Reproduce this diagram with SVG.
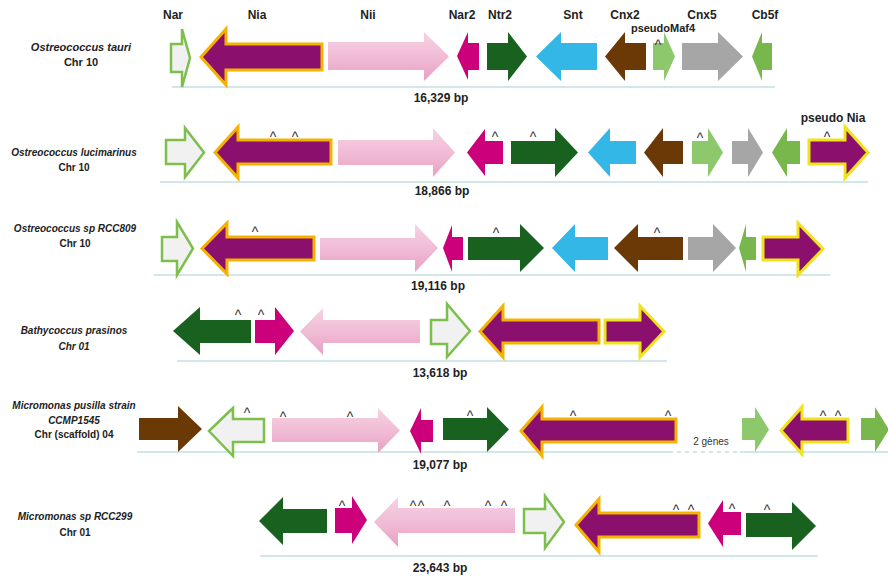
<svg xmlns="http://www.w3.org/2000/svg" width="888" height="577" viewBox="0 0 888 577">
<defs>
<linearGradient id="niiGrad" x1="0" y1="0" x2="0" y2="1">
<stop offset="0" stop-color="#f6d2e3"/>
<stop offset="0.55" stop-color="#f0bad4"/>
<stop offset="1" stop-color="#e7a0c3"/>
</linearGradient>
</defs>
<style>
text{font-family:"Liberation Sans",Arial,sans-serif;fill:#222}
.hdr{font-size:12px;font-weight:bold;text-anchor:middle}
.sp{font-size:10px;font-weight:bold;font-style:italic;text-anchor:middle}
.chr{font-size:10px;font-weight:bold;text-anchor:middle}
.bp{font-size:12px;font-weight:bold;text-anchor:middle}
.car{font-size:14px;text-anchor:middle;fill:#333}
.nar{fill:#f1f1f1;stroke:#7cbf4c;stroke-width:2.5}
.nia{fill:#8b0f6d;stroke:#f5b301;stroke-width:3}
.niay{fill:#8b0f6d;stroke:#f0e21c;stroke-width:3}
.nii{fill:url(#niiGrad)}
.nar2{fill:#cc007a}
.ntr2{fill:#19611f}
.snt{fill:#33b7e6}
.cnx2{fill:#6a3905}
.maf{fill:#8dc86d}
.cnx5{fill:#a6a6a6}
.cb5f{fill:#78b74c}
.base{stroke:#c3dfe2;stroke-width:1.5;fill:none}
.dash{stroke:#c3dfe2;stroke-width:1.5;fill:none;stroke-dasharray:4 4}
</style>
<rect width="888" height="577" fill="#ffffff"/>

<g id="headers">
<text class="hdr" x="173" y="19">Nar</text>
<text class="hdr" x="257" y="19">Nia</text>
<text class="hdr" x="368" y="19">Nii</text>
<text class="hdr" x="462" y="19">Nar2</text>
<text class="hdr" x="500" y="19">Ntr2</text>
<text class="hdr" x="573" y="19">Snt</text>
<text class="hdr" x="625" y="19">Cnx2</text>
<text class="hdr" x="702" y="19">Cnx5</text>
<text class="hdr" x="765" y="19">Cb5f</text>
<text class="hdr" x="663" y="32" style="font-size:11px">pseudoMaf4</text>
</g>

<g id="connectors">
<line class="base" x1="172" y1="87" x2="775" y2="87"/>
<line class="base" x1="160" y1="182" x2="868" y2="182"/>
<line class="base" x1="154" y1="275" x2="830" y2="275"/>
<line class="base" x1="177" y1="361" x2="667" y2="361"/>
<line class="base" x1="137" y1="452" x2="673" y2="452"/>
<line class="dash" x1="677" y1="452" x2="738" y2="452"/>
<line class="base" x1="740" y1="452" x2="888" y2="452"/>
<line class="base" x1="260" y1="556" x2="818" y2="556"/>
</g>

<!-- Row 1 -->
<g id="row1-label">
<text class="sp" x="81" y="51" style="font-size:11px">Ostreococcus tauri</text>
<text class="chr" x="81" y="66" style="font-size:11px">Chr 10</text>
<text class="bp" x="441" y="102">16,329 bp</text>
</g>
<g id="r1-nar"><polygon class="nar" points="171,44 182,44 182,29 190,58 182,87 182,72 171,72"/></g>
<g id="r1-nia"><polygon class="nia" points="201,57 226,29 226,44 322,44 322,70 226,70 226,85"/></g>
<g id="r1-nii"><polygon class="nii" points="328,42 424,42 424,32 449,56.5 424,81 424,70 328,70"/></g>
<g id="r1-nar2"><polygon class="nar2" points="457,56 468,32 468,43 479,43 479,70 468,70 468,80"/></g>
<g id="r1-ntr2"><polygon class="ntr2" points="487,43 508,43 508,32 527,56.5 508,81 508,70 487,70"/></g>
<g id="r1-snt"><polygon class="snt" points="536,56.5 561,32 561,43 597,43 597,70 561,70 561,81"/></g>
<g id="r1-cnx2"><polygon class="cnx2" points="605,56.5 625,32 625,43 646,43 646,70 625,70 625,81"/></g>
<g id="r1-maf4"><polygon class="maf" points="653,43 664,43 664,32 675,56.5 664,81 664,70 653,70"/><text class="car" x="658" y="50">^</text></g>
<g id="r1-cnx5"><polygon class="cnx5" points="682,43 718,43 718,32 743,56.5 718,81 718,70 682,70"/></g>
<g id="r1-cb5f"><polygon class="cb5f" points="752,56.5 762,32 762,43 772,43 772,70 762,70 762,81"/></g>

<!-- Row 2 -->
<g id="row2-label">
<text class="sp" x="74" y="156">Ostreococcus lucimarinus</text>
<text class="chr" x="74" y="171">Chr 10</text>
<text class="bp" x="442" y="195">18,866 bp</text>
<text class="hdr" x="833" y="122">pseudo Nia</text>
</g>
<g id="r2-nar"><polygon class="nar" points="166,140 185,140 185,128 204,152.5 185,177 185,164 166,164"/></g>
<g id="r2-nia"><polygon class="nia" points="215,152.5 238,127 238,140 331,140 331,164 238,164 238,178"/><text class="car" x="273" y="142">^</text><text class="car" x="295" y="142">^</text></g>
<g id="r2-nii"><polygon class="nii" points="338,140 433,140 433,128 455,152.5 433,177 433,165 338,165"/></g>
<g id="r2-nar2"><polygon class="nar2" points="467,152.5 485,129 485,141 503,141 503,164 485,164 485,176"/><text class="car" x="495" y="142">^</text></g>
<g id="r2-ntr2"><polygon class="ntr2" points="511,141 555,141 555,128 578,152.5 555,177 555,164 511,164"/><text class="car" x="533" y="142">^</text></g>
<g id="r2-snt"><polygon class="snt" points="588,152.5 610,128 610,141 636,141 636,164 610,164 610,177"/></g>
<g id="r2-cnx2"><polygon class="cnx2" points="644,152.5 663,128 663,141 683,141 683,164 663,164 663,177"/></g>
<g id="r2-maf4"><polygon class="maf" points="692,141 708,141 708,128 723,152.5 708,177 708,164 692,164"/><text class="car" x="700" y="143">^</text></g>
<g id="r2-cnx5"><polygon class="cnx5" points="732,141 748,141 748,128 763,152.5 748,177 748,164 732,164"/></g>
<g id="r2-cb5f"><polygon class="cb5f" points="772,152.5 787,128 787,141 800,141 800,164 787,164 787,177"/></g>
<g id="r2-pseudonia"><polygon class="niay" points="809,140 845,140 845,127 868,152.5 845,178 845,164 809,164"/><text class="car" x="827" y="142">^</text></g>

<!-- Row 3 -->
<g id="row3-label">
<text class="sp" x="75" y="232">Ostreococcus sp RCC809</text>
<text class="chr" x="75" y="247">Chr 10</text>
<text class="bp" x="438" y="290">19,116 bp</text>
</g>
<g id="r3-nar"><polygon class="nar" points="162,237 177,237 177,222 193,248.5 177,275 177,261 162,261"/></g>
<g id="r3-nia"><polygon class="nia" points="202,248.5 227,223 227,237 314,237 314,260 227,260 227,274"/><text class="car" x="255" y="237">^</text></g>
<g id="r3-nii"><polygon class="nii" points="320,238 415,238 415,224 438,248 415,272 415,260 320,260"/></g>
<g id="r3-nar2"><polygon class="nar2" points="443,248 452,225 452,237 463,237 463,260 452,260 452,272"/></g>
<g id="r3-ntr2"><polygon class="ntr2" points="468,237 520,237 520,224 544,248 520,272 520,260 468,260"/><text class="car" x="496" y="238">^</text></g>
<g id="r3-snt"><polygon class="snt" points="552,248 575,224 575,237 608,237 608,260 575,260 575,272"/></g>
<g id="r3-cnx2"><polygon class="cnx2" points="614,248 638,224 638,237 683,237 683,260 638,260 638,272"/><text class="car" x="657" y="238">^</text></g>
<g id="r3-cnx5"><polygon class="cnx5" points="688,237 713,237 713,224 736,248 713,272 713,260 688,260"/></g>
<g id="r3-cb5f"><polygon class="cb5f" points="739,248 746,224 746,237 756,237 756,260 746,260 746,272"/></g>
<g id="r3-nia2"><polygon class="niay" points="763,237 798,237 798,223 823,249 798,275 798,260 763,260"/></g>

<!-- Row 4 -->
<g id="row4-label">
<text class="sp" x="74" y="334">Bathycoccus prasinos</text>
<text class="sp" x="74" y="350">Chr 01</text>
<text class="bp" x="440" y="377">13,618 bp</text>
</g>
<g id="r4-ntr2"><polygon class="ntr2" points="173,331 200,307 200,320 251,320 251,343 200,343 200,355"/><text class="car" x="238" y="320">^</text></g>
<g id="r4-nar2"><polygon class="nar2" points="255,320 275,320 275,307 294,331 275,355 275,343 255,343"/><text class="car" x="261" y="320">^</text></g>
<g id="r4-nii"><polygon class="nii" points="300,331.5 323,308 323,320 420,320 420,343 323,343 323,355"/></g>
<g id="r4-nar"><polygon class="nar" points="431,320 447,320 447,304 470,331 447,357 447,344 431,344"/></g>
<g id="r4-nia"><polygon class="nia" points="480,331.5 503,306 503,320 599,320 599,343 503,343 503,357"/></g>
<g id="r4-nia2"><polygon class="niay" points="605,320 640,320 640,306 664,331.5 640,357 640,343 605,343"/></g>

<!-- Row 5 -->
<g id="row5-label">
<text class="sp" x="74" y="409">Micromonas pusilla strain</text>
<text class="sp" x="74" y="424">CCMP1545</text>
<text class="chr" x="74" y="438">Chr (scaffold) 04</text>
<text class="bp" x="440" y="469">19,077 bp</text>
<text x="711" y="445" style="font-size:10px;text-anchor:middle;fill:#333">2 gènes</text>
</g>
<g id="r5-cnx2"><polygon class="cnx2" points="139,418 178,418 178,406 202,429 178,452 178,440 139,440"/></g>
<g id="r5-nar"><polygon class="nar" points="209,431 233,408 233,419 264,419 264,442 233,442 233,456"/><text class="car" x="247" y="418">^</text></g>
<g id="r5-nii"><polygon class="nii" points="272,418 378,418 378,408 400,430.5 378,453 378,442 272,442"/><text class="car" x="283" y="422">^</text><text class="car" x="350" y="422">^</text></g>
<g id="r5-nar2"><polygon class="nar2" points="410,431 421,408 421,420 433,420 433,442 421,442 421,454"/></g>
<g id="r5-ntr2"><polygon class="ntr2" points="443,418 487,418 487,407 509,429.5 487,452 487,440 443,440"/><text class="car" x="470" y="421">^</text></g>
<g id="r5-nia"><polygon class="nia" points="521,431 542,407 542,419 676,419 676,442 542,442 542,456"/><text class="car" x="573" y="421">^</text><text class="car" x="668" y="421">^</text></g>
<g id="r5-gene-a"><polygon class="maf" points="742,418 755,418 755,407 769,429.5 755,452 755,440 742,440"/></g>
<g id="r5-nia2"><polygon class="niay" points="781,430.5 802,407 802,419 848,419 848,442 802,442 802,454"/><text class="car" x="823" y="421">^</text><text class="car" x="838" y="421">^</text></g>
<g id="r5-gene-b"><polygon class="cb5f" points="861,418 875,418 875,407 889,429.5 875,452 875,440 861,440"/></g>

<!-- Row 6 -->
<g id="row6-label">
<text class="sp" x="75" y="520">Micromonas sp RCC299</text>
<text class="chr" x="75" y="536">Chr 01</text>
<text class="bp" x="440" y="572">23,643 bp</text>
</g>
<g id="r6-ntr2"><polygon class="ntr2" points="259,521 283,497 283,509 327,509 327,533 283,533 283,545"/></g>
<g id="r6-nar2"><polygon class="nar2" points="335,508 352,508 352,496 367,520 352,544 352,533 335,533"/><text class="car" x="342" y="511">^</text></g>
<g id="r6-nii"><polygon class="nii" points="374,522 398,497 398,508 515,508 515,533 398,533 398,547"/><text class="car" x="413" y="511">^</text><text class="car" x="421" y="511">^</text><text class="car" x="447" y="511">^</text><text class="car" x="488" y="511">^</text><text class="car" x="504" y="511">^</text></g>
<g id="r6-nar"><polygon class="nar" points="524,509 545,509 545,496 564,522 545,548 545,533 524,533"/></g>
<g id="r6-nia"><polygon class="nia" points="576,525 599,499 599,513 699,513 699,537 599,537 599,552"/><text class="car" x="676" y="515">^</text><text class="car" x="691" y="515">^</text></g>
<g id="r6-nar2b"><polygon class="nar2" points="708,523.5 723,500 723,512 741,512 741,535 723,535 723,547"/><text class="car" x="732" y="514">^</text></g>
<g id="r6-ntr2b"><polygon class="ntr2" points="746,513 792,513 792,502 816,526 792,550 792,537 746,537"/><text class="car" x="767" y="515">^</text></g>
</svg>
